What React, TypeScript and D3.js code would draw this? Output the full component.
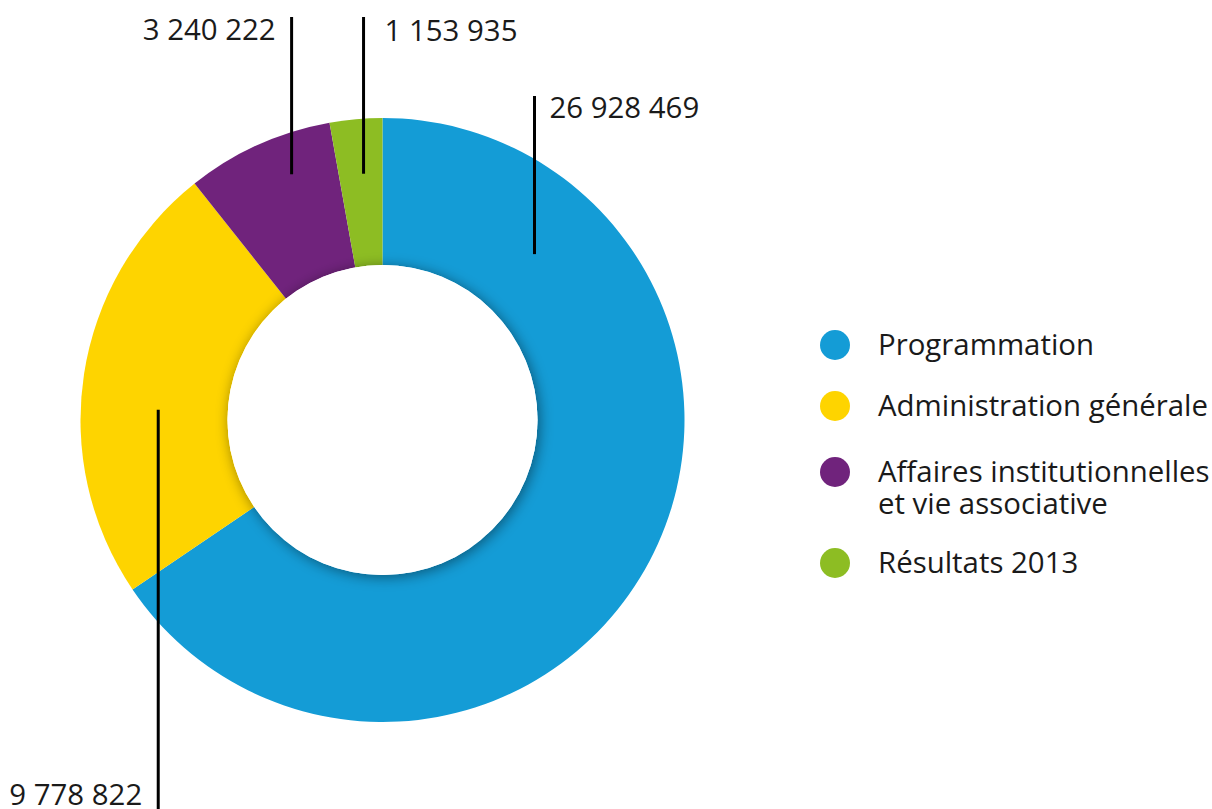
import React from "react";
import * as d3 from "d3";

const categories = [
  "Programmation",
  "Administration générale",
  "Affaires institutionnelles et vie associative",
  "Résultats 2013",
];
const values = [26928469, 9778822, 3240222, 1153935];
const valueLabels = ["26 928 469", "9 778 822", "3 240 222", "1 153 935"];
const legendLines = [
  ["Programmation"],
  ["Administration générale"],
  ["Affaires institutionnelles", "et vie associative"],
  ["Résultats 2013"],
];
const colors = ["#149cd6", "#fed400", "#70237c", "#8dbd23"];

// leader line layout: angle (deg from 12 o'clock), radius of anchor, line end y, label side
const leaderAngle = [42.5, 272.6, 339.7, 355.6];
const leaderRadius = [225, 224.5, 262, 247];
const leaderEndY = [96, 809, 17, 17];
const labelSide = ["right", "left", "left", "right"];
const labelGap = [15, 16, 16, 21];
const labelBaseline = [118, 805, 40, 41];

export default function App() {
  const W = 1212;
  const H = 809;
  const cx = 382.5;
  const cy = 420;
  const outerR = 302;
  const innerR = 155;

  const pie = d3.pie<number>().sort(null).value((d) => d);
  const arcs = pie(values);
  const arcGen = d3.arc<d3.PieArcDatum<number>>().innerRadius(0).outerRadius(outerR);

  const font = "'Open Sans', 'Noto Sans', sans-serif";
  const fs = 29.4;

  return (
    <svg width={W} height={H} style={{ position: "absolute", left: 0, top: 0 }}>
      <defs>
        <filter id="innerShadow" x="-30%" y="-30%" width="160%" height="160%">
          <feDropShadow dx="2" dy="2" stdDeviation="7" floodColor="#000" floodOpacity="0.45" />
        </filter>
      </defs>
      <rect width={W} height={H} fill="#fff" />
      <g transform={`translate(${cx},${cy})`}>
        {arcs.map((a, i) => (
          <path key={i} d={arcGen(a) || ""} fill={colors[i]} />
        ))}
        <circle r={innerR} fill="#fff" filter="url(#innerShadow)" />
        <circle r={innerR} fill="#fff" />
      </g>
      {values.map((v, i) => {
        const ang = (leaderAngle[i] * Math.PI) / 180;
        const x = cx + leaderRadius[i] * Math.sin(ang);
        const y = cy - leaderRadius[i] * Math.cos(ang);
        const side = labelSide[i];
        return (
          <g key={i}>
            <line x1={x} x2={x} y1={y} y2={leaderEndY[i]} stroke="#000" strokeWidth={3} />
            <text
              x={side === "right" ? x + labelGap[i] : x - labelGap[i]}
              y={labelBaseline[i]}
              textAnchor={side === "right" ? "start" : "end"}
              fontFamily={font}
              fontSize={fs}
              fill="#1a1a1a"
            >
              {valueLabels[i]}
            </text>
          </g>
        );
      })}
      {categories.map((c, i) => {
        const cyL = [345, 406, 472, 563][i];
        return (
          <g key={c}>
            <circle cx={835} cy={cyL} r={15} fill={colors[i]} />
            {legendLines[i].map((ln, j) => (
              <text
                key={j}
                x={878}
                y={cyL + 10 + j * 32}
                fontFamily={font}
                fontSize={fs}
                fill="#1a1a1a"
              >
                {ln}
              </text>
            ))}
          </g>
        );
      })}
    </svg>
  );
}
